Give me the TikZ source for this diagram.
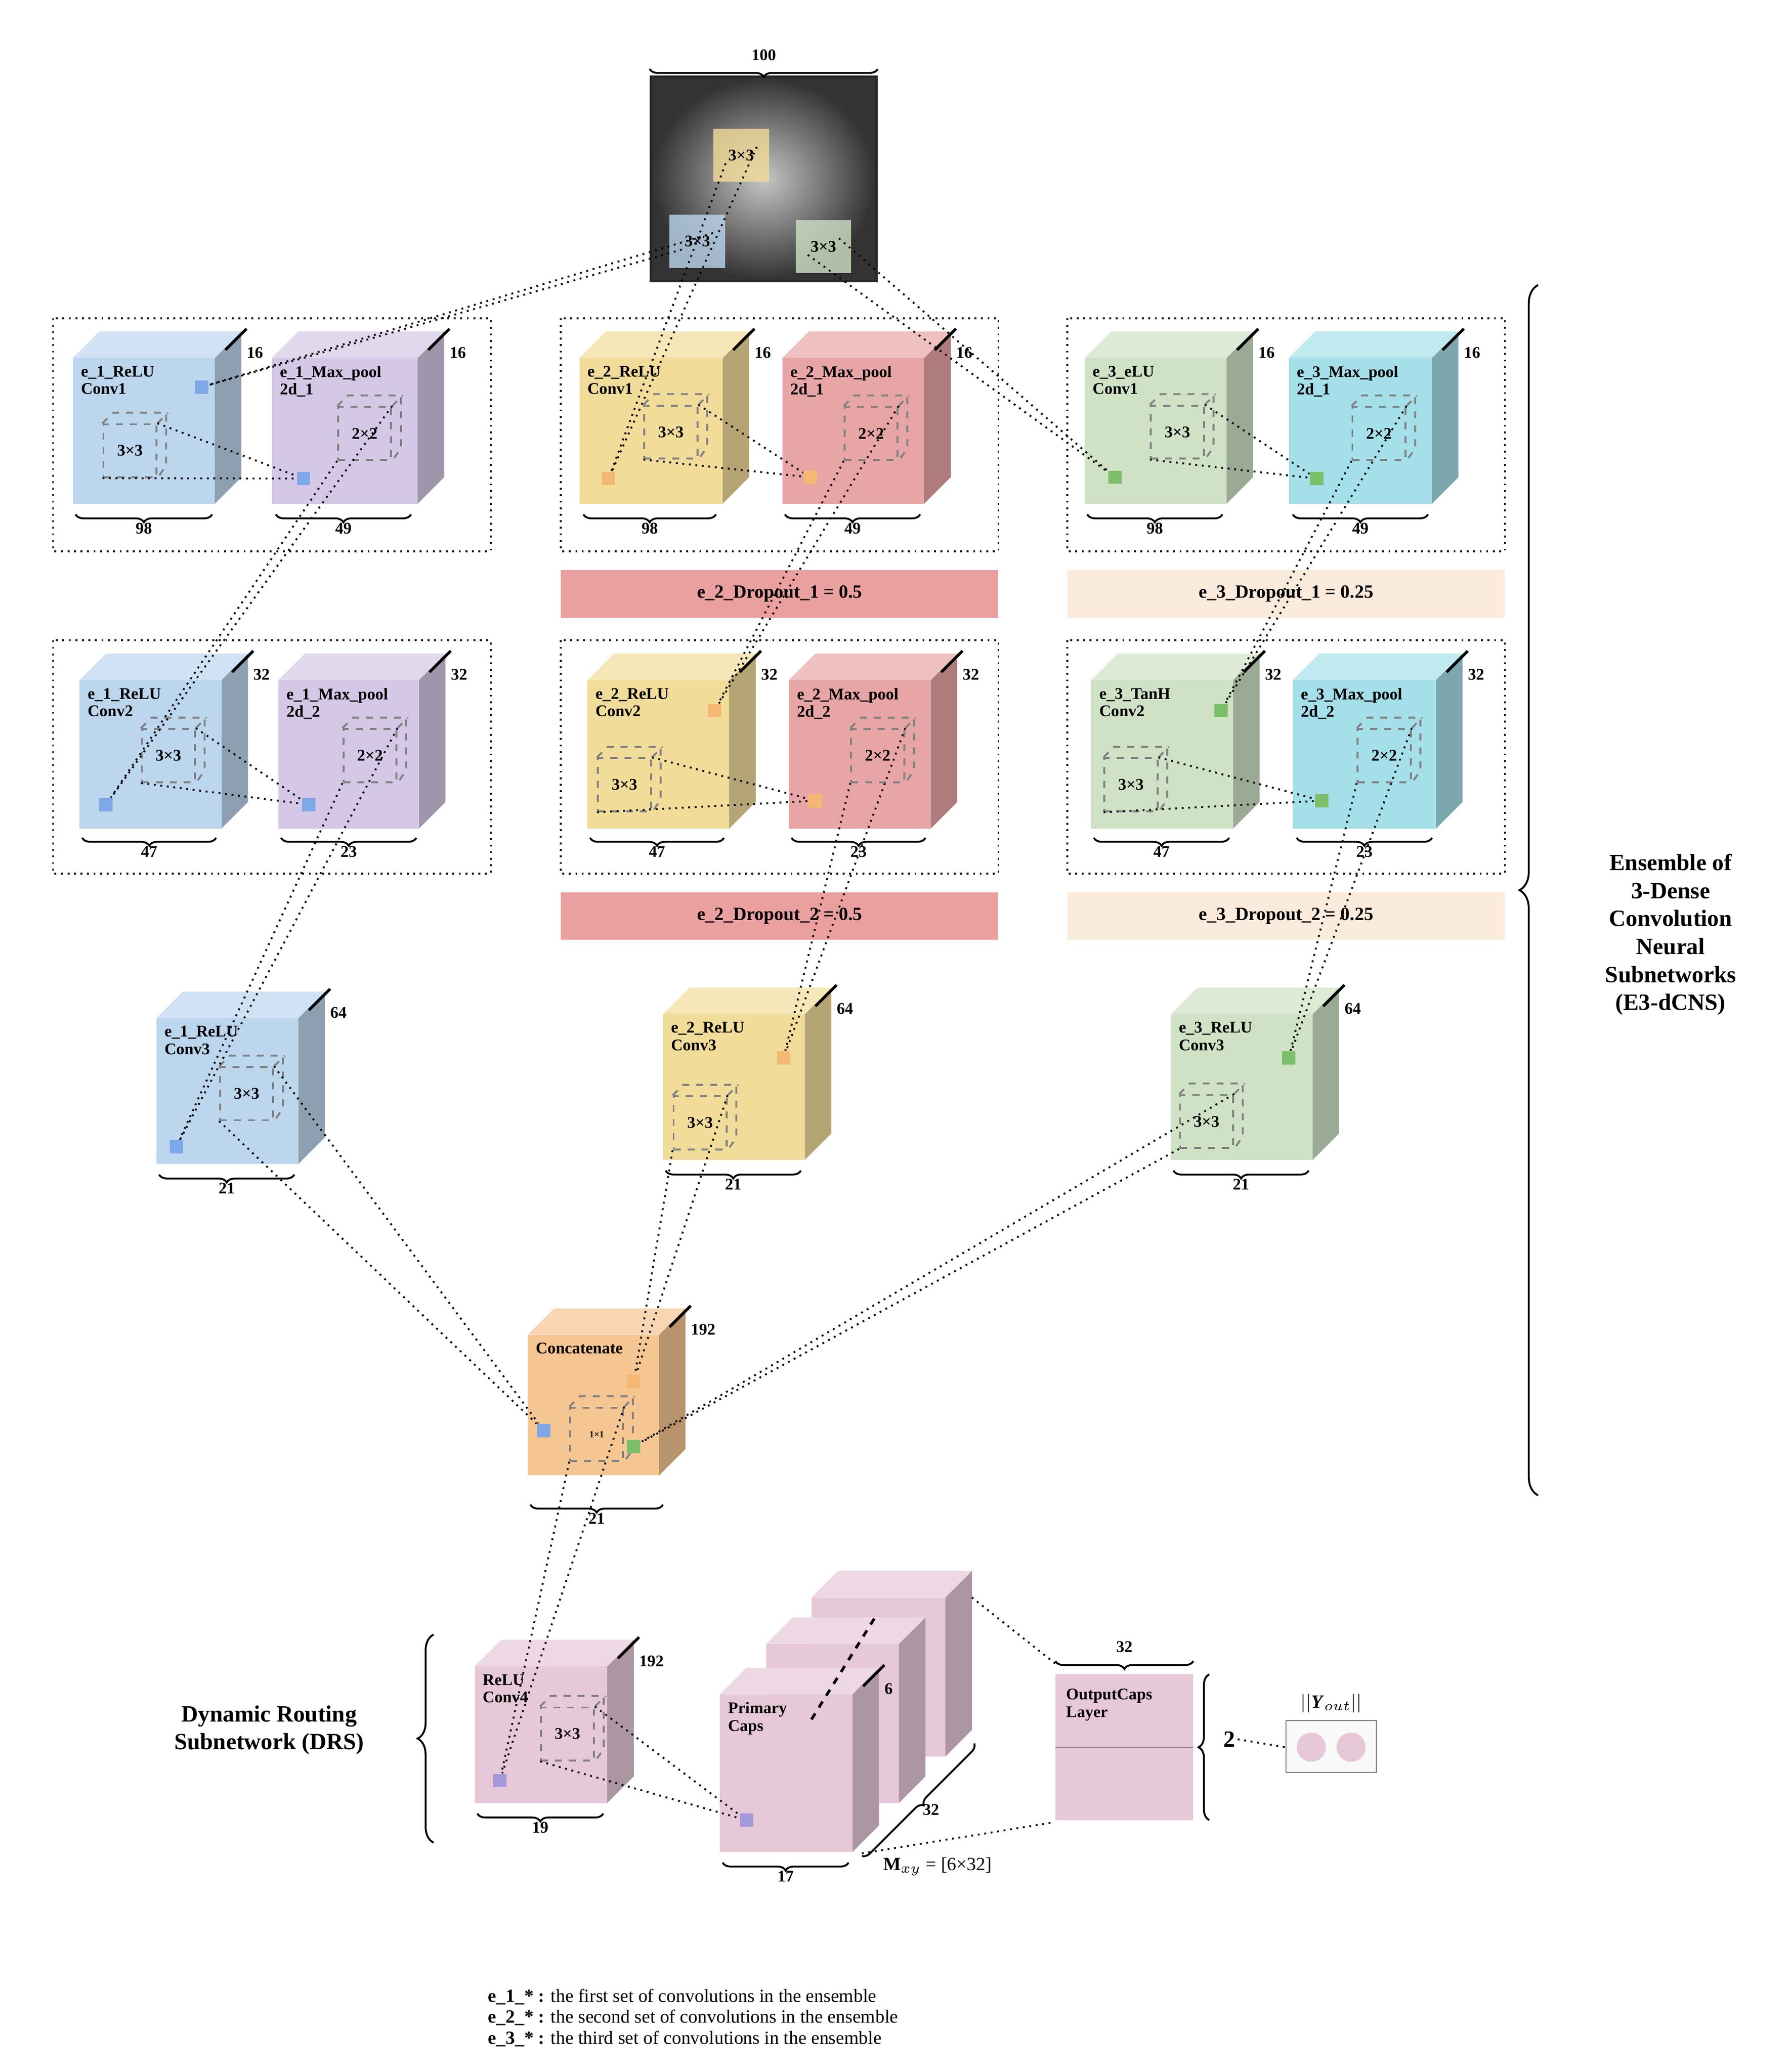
\documentclass[tikz,border=0pt]{standalone}
\usepackage{fontspec}
\setmainfont{Liberation Serif}
\usetikzlibrary{decorations.pathreplacing}
\definecolor{cB}{HTML}{BCD6EE}\definecolor{cP}{HTML}{D4C8E6}\definecolor{cY}{HTML}{F2DC9A}
\definecolor{cR}{HTML}{E8A5A5}\definecolor{cG}{HTML}{CFE2C5}\definecolor{cC}{HTML}{A5DFEA}
\definecolor{cO}{HTML}{F5C592}\definecolor{cK}{HTML}{E6C8D8}\definecolor{cDr}{HTML}{EBA0A0}\definecolor{cDp}{HTML}{FBEBDD}
\definecolor{sB}{HTML}{7FA8E8}\definecolor{sO}{HTML}{F4B872}\definecolor{sG}{HTML}{7CBF6A}\definecolor{sP}{HTML}{A49AD8}
\tikzset{lbl/.style={font=\fontsize{7}{7.5}\selectfont\bfseries,align=left,inner sep=1pt},
 num/.style={font=\fontsize{7}{8}\selectfont\bfseries,inner sep=1pt},
 kern/.style={draw=gray,dashed,thick,minimum size=40*0.02cm,font=\fontsize{7}{8}\selectfont\bfseries,inner sep=0pt},
 sq/.style={minimum size=10*0.02cm,inner sep=0pt},
 con/.style={dotted,thick},
 box/.style={dotted,thick},
 brc/.style={decorate,decoration={brace,mirror,amplitude=6*0.02cm},thick}}
\newcommand\cube[8]{%
 \fill[#5!75!black] (#1+#3,#2) -- ++(20,-20) -- ++(0,#4) -- ++(-20,20) -- cycle;
 \fill[#5!70!white] (#1,#2) -- ++(20,-20) -- ++(#3,0) -- ++(-20,20) -- cycle;
 \fill[#5] (#1,#2) rectangle ++(#3,#4);
 \node[lbl,anchor=north west] (#6) at (#1+4,#2+4) {#7};
 \draw[very thick] (#1+#3+8,#2-6) -- ++(16,-16);
 \node[num,anchor=west] at (#1+#3+22,#2-4) {#8};}
\newcommand\kbox[4]{% x y label name
 \node[kern] (#4) at (#1,#2) {#3};
 \draw[gray,dashed,thick] (#4.north west)--++(8,-8) -- ++(40,0) -- ++(0,40) -- (#4.south east) (#4.north east)--++(8,-8);}
\newcommand\brc[4]{\draw[brc] (#1,#3) -- (#2,#3) node[midway,below=4*0.02cm,num] {#4};}
\begin{document}
\begin{tikzpicture}[x=0.02cm,y=-0.02cm]
\useasboundingbox (0,0) rectangle (1350,1563);
% image
\fill[black!85] (490,57) rectangle (662,213);
\shade[inner color=gray!45,outer color=black!80] (492,59) rectangle (660,211);
\fill[cY,opacity=.8] (538,97) rectangle (580,137); \node[num] (k0y) at (559,117) {3×3};
\fill[cB,opacity=.8] (505,162) rectangle (547,202); \node[num] (k0b) at (526,182) {3×3};
\fill[cG,opacity=.8] (600,166) rectangle (642,206); \node[num] (k0g) at (621,186) {3×3};
\draw[brc,decoration={brace,amplitude=6*0.02cm}] (490,52) -- (662,52) node[midway,above=4*0.02cm,num] {100};
% boxes
\foreach \x in {40,423,805}{\draw[box] (\x,240) rectangle ++(330,176);}
\foreach \x in {40,423,805}{\draw[box] (\x,483) rectangle ++(330,176);}
\fill[cDr] (423,430) rectangle (753,466); \node[num,font=\fontsize{8}{9}\selectfont\bfseries] (d1) at (588,448) {e\_2\_Dropout\_1 = 0.5};
\fill[cDp] (805,430) rectangle (1135,466); \node[num,font=\fontsize{8}{9}\selectfont\bfseries] (d2) at (970,448) {e\_3\_Dropout\_1 = 0.25};
\fill[cDr] (423,673) rectangle (753,709); \node[num,font=\fontsize{8}{9}\selectfont\bfseries] (d3) at (588,691) {e\_2\_Dropout\_2 = 0.5};
\fill[cDp] (805,673) rectangle (1135,709); \node[num,font=\fontsize{8}{9}\selectfont\bfseries] (d4) at (970,691) {e\_3\_Dropout\_2 = 0.25};
% row1
\cube{55}{270}{107}{110}{cB}{c11}{e\_1\_ReLU\\Conv1}{16}
\cube{205}{270}{110}{110}{cP}{c12}{e\_1\_Max\_pool\\2d\_1}{16}
\cube{437}{270}{108}{110}{cY}{c21}{e\_2\_ReLU\\Conv1}{16}
\cube{590}{270}{107}{110}{cR}{c22}{e\_2\_Max\_pool\\2d\_1}{16}
\cube{818}{270}{107}{110}{cG}{c31}{e\_3\_eLU\\Conv1}{16}
\cube{972}{270}{108}{110}{cC}{c32}{e\_3\_Max\_pool\\2d\_1}{16}
\brc{57}{160}{388}{98}\brc{208}{310}{388}{49}
\brc{440}{540}{388}{98}\brc{592}{694}{388}{49}
\brc{820}{922}{388}{98}\brc{975}{1077}{388}{49}
% row2
\cube{60}{513}{107}{112}{cB}{c13}{e\_1\_ReLU\\Conv2}{32}
\cube{210}{513}{106}{112}{cP}{c14}{e\_1\_Max\_pool\\2d\_2}{32}
\cube{443}{513}{107}{112}{cY}{c23}{e\_2\_ReLU\\Conv2}{32}
\cube{595}{513}{107}{112}{cR}{c24}{e\_2\_Max\_pool\\2d\_2}{32}
\cube{823}{513}{107}{112}{cG}{c33}{e\_3\_TanH\\Conv2}{32}
\cube{975}{513}{108}{112}{cC}{c34}{e\_3\_Max\_pool\\2d\_2}{32}
\brc{62}{163}{632}{47}\brc{212}{314}{632}{23}
\brc{445}{546}{632}{47}\brc{597}{698}{632}{23}
\brc{825}{927}{632}{47}\brc{978}{1080}{632}{23}
% row3
\cube{118}{768}{107}{110}{cB}{c15}{e\_1\_ReLU\\Conv3}{64}
\cube{500}{765}{107}{110}{cY}{c25}{e\_2\_ReLU\\Conv3}{64}
\cube{883}{765}{107}{110}{cG}{c35}{e\_3\_ReLU\\Conv3}{64}
\brc{120}{222}{886}{21}\brc{502}{604}{883}{21}\brc{885}{987}{883}{21}
% concat
\cube{398}{1007}{99}{106}{cO}{cc}{Concatenate}{192}
\brc{400}{500}{1135}{21}
% conv4
\cube{358}{1257}{100}{103}{cK}{c4}{ReLU\\Conv4}{192}
\brc{360}{455}{1368}{19}
% primary caps
\fill[cK!75!black] (713,1205) -- ++(20,-20) -- ++(0,120) -- ++(-20,20) -- cycle;
\fill[cK!70!white] (612,1205) -- ++(20,-20) -- ++(101,0) -- ++(-20,20) -- cycle;
\fill[cK] (612,1205) rectangle ++(101,120);
\fill[cK!75!black] (678,1240) -- ++(20,-20) -- ++(0,120) -- ++(-20,20) -- cycle;
\fill[cK!70!white] (578,1240) -- ++(20,-20) -- ++(100,0) -- ++(-20,20) -- cycle;
\fill[cK] (578,1240) rectangle ++(100,120);
\cube{543}{1278}{100}{119}{cK}{pc}{Primary\\Caps}{6}
\draw[dashed,very thick] (612,1297) -- (660,1220);
\brc{545}{640}{1405}{17}
\draw[brc] (650,1400) -- (735,1315) node[midway,below right=1*0.02cm,num] {32};
\node[anchor=west,font=\fontsize{8}{9}\selectfont] (mxy) at (660,1408) {\textbf{M}$_{xy}$ = [6×32]};
% output caps
\fill[cK] (796,1263) rectangle (900,1373);
\draw[gray] (796,1318) -- (900,1318);
\node[lbl,anchor=north west] (oc) at (802,1272) {OutputCaps\\Layer};
\draw[brc,decoration={brace,amplitude=6*0.02cm}] (796,1253) -- (900,1253) node[midway,above=4*0.02cm,num] {32};
\draw[brc,decoration={brace,amplitude=8*0.02cm}] (912,1263) -- (912,1373);
\node[num,font=\fontsize{10}{11}\selectfont\bfseries] (two) at (927,1312) {2};
\draw[gray,fill=gray!5] (970,1298) rectangle (1038,1337);
\node[sq,circle,fill=cK,minimum size=22*0.02cm] (y1) at (989,1318) {};
\node[sq,circle,fill=cK,minimum size=22*0.02cm] (y2) at (1019,1318) {};
\node[font=\fontsize{8}{9}\selectfont] (yo) at (1004,1285) {\textbf{$||$\textit{Y}$_{out}$$||$}};
\draw[con] (two.east) -- (970,1318);
\draw[con] (733,1205) -- (796,1255);
\draw[con] (650,1398) -- (793,1375);
% big braces
\draw[brc,decoration={brace,amplitude=14*0.02cm}] (1160,215) -- (1160,1128);
\node[font=\fontsize{10}{12}\selectfont\bfseries,align=center] (ens) at (1260,705) {Ensemble of\\3-Dense\\Convolution\\Neural\\Subnetworks\\(E3-dCNS)};
\draw[brc,decoration={brace,amplitude=12*0.02cm,mirror}] (327,1233) -- (327,1390);
\node[font=\fontsize{10}{12}\selectfont\bfseries,align=center] (drs) at (203,1305) {Dynamic Routing\\Subnetwork (DRS)};
% kernels
\kbox{98}{340}{3×3}{k11}\kbox{275}{327}{2×2}{k12}
\kbox{506}{326}{3×3}{k21}\kbox{657}{327}{2×2}{k22}
\kbox{888}{326}{3×3}{k31}\kbox{1040}{327}{2×2}{k32}
\kbox{127}{570}{3×3}{k13}\kbox{279}{570}{2×2}{k14}
\kbox{471}{592}{3×3}{k23}\kbox{662}{570}{2×2}{k24}
\kbox{853}{592}{3×3}{k33}\kbox{1044}{570}{2×2}{k34}
\kbox{186}{825}{3×3}{k15}\kbox{528}{847}{3×3}{k25}\kbox{910}{846}{3×3}{k35}
\kbox{450}{1082}{\fontsize{4}{4}\selectfont 1×1}{kc}\kbox{428}{1308}{3×3}{k4}
% small squares
\node[sq,fill=sB] (s11) at (152,292) {};
\node[sq,fill=sB] (s12) at (229,361) {};
\node[sq,fill=sO] (s21) at (459,361) {};
\node[sq,fill=sO] (s22) at (611,360) {};
\node[sq,fill=sG] (s31) at (841,360) {};
\node[sq,fill=sG] (s32) at (993,361) {};
\node[sq,fill=sB] (s13) at (80,607) {};
\node[sq,fill=sB] (s14) at (233,607) {};
\node[sq,fill=sO] (s23) at (539,536) {};
\node[sq,fill=sO] (s24) at (615,604) {};
\node[sq,fill=sG] (s33) at (921,536) {};
\node[sq,fill=sG] (s34) at (997,604) {};
\node[sq,fill=sB] (s15) at (133,865) {};
\node[sq,fill=sO] (s25) at (591,798) {};
\node[sq,fill=sG] (s35) at (972,798) {};
\node[sq,fill=sB] (sc1) at (410,1079) {};
\node[sq,fill=sO] (sc2) at (478,1042) {};
\node[sq,fill=sG] (sc3) at (478,1091) {};
\node[sq,fill=sP] (s4) at (377,1343) {};
\node[sq,fill=sP] (sp) at (563,1373) {};
% connectors
\foreach \a/\b in {k0b/s11,k0y/s21,k0g/s31,k11/s12,k21/s22,k31/s32,k12/s13,k22/s23,k32/s33,
 k13/s14,k23/s24,k33/s34,k14/s15,k24/s25,k34/s35,k15/sc1,k25/sc2,k35/sc3,kc/s4,k4/sp}
 {\draw[con] (\a.north east) -- (\b); \draw[con] (\a.south west) -- (\b);}
% legend
\node[anchor=west,font=\fontsize{8}{9}\selectfont,align=left] (leg) at (362,1522)
 {\textbf{e\_1\_* :} the first set of convolutions in the ensemble\\
  \textbf{e\_2\_* :} the second set of convolutions in the ensemble\\
  \textbf{e\_3\_* :} the third set of convolutions in the ensemble};
\end{tikzpicture}
\end{document}
